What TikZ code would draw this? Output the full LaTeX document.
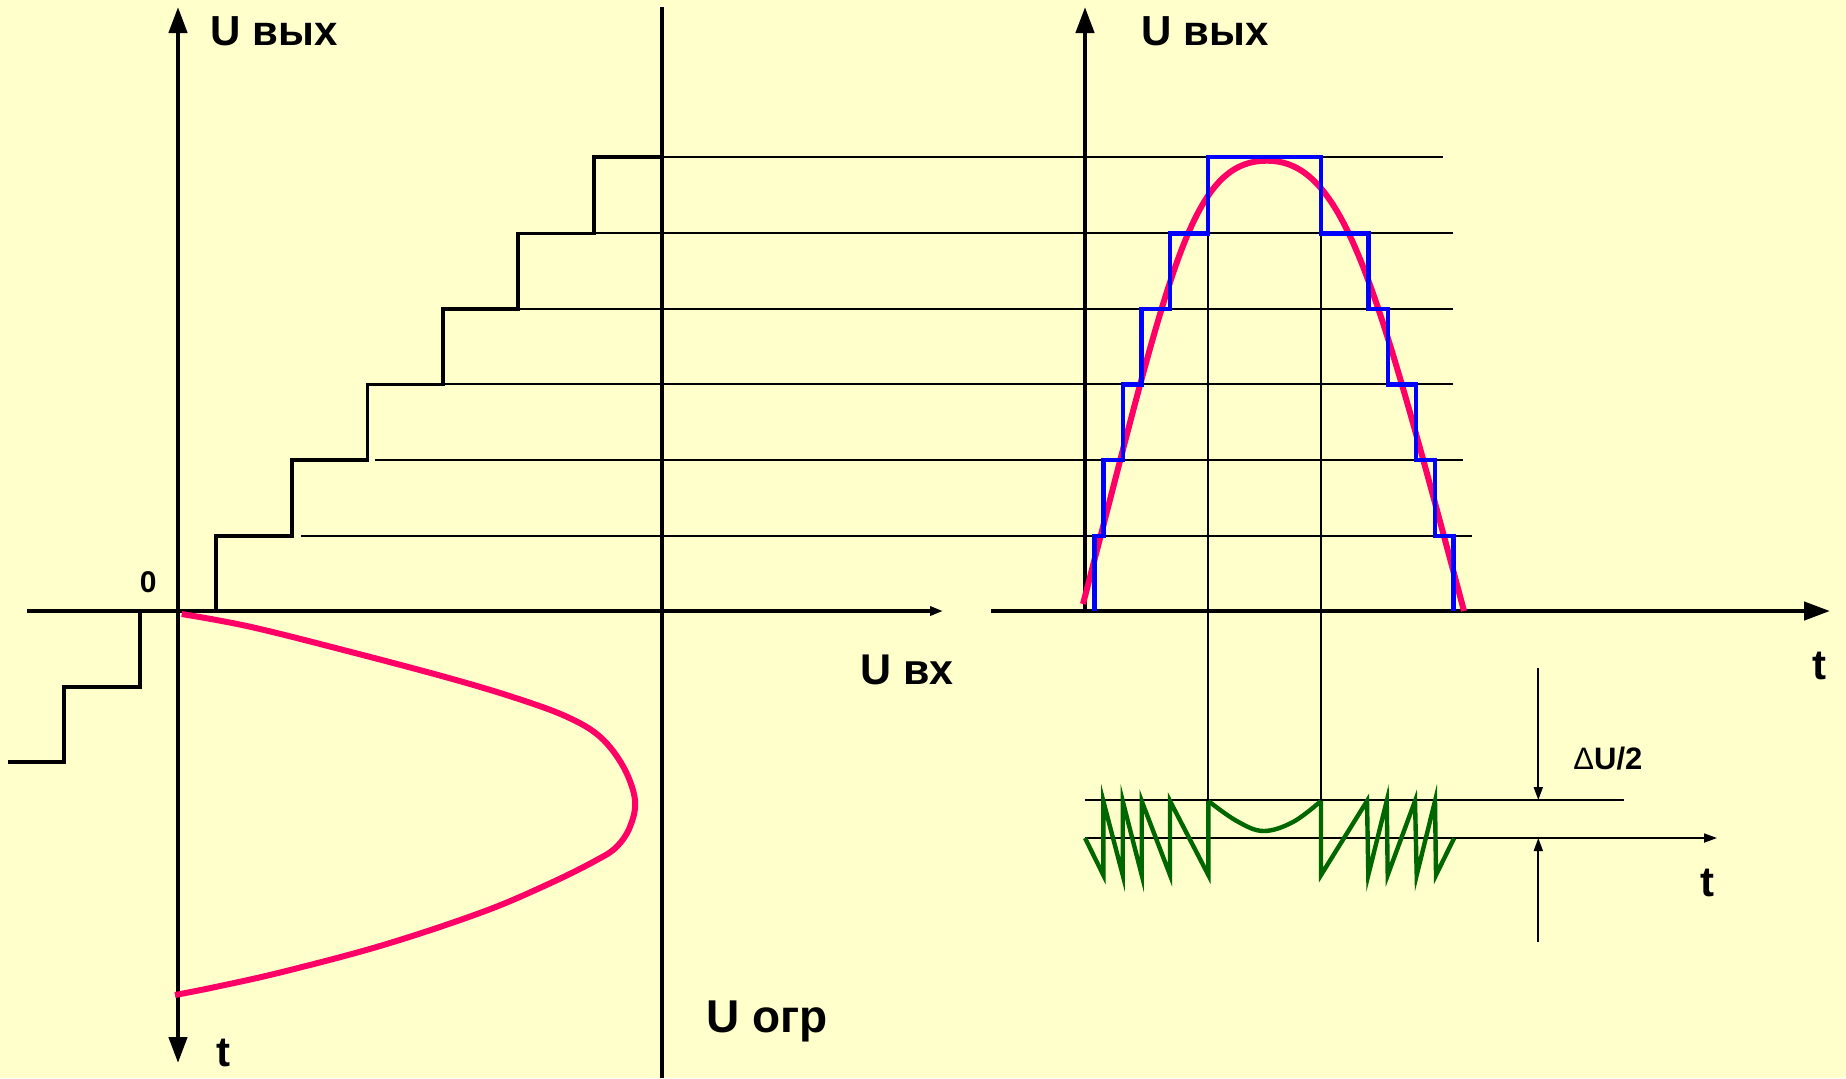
\documentclass[tikz,border=0pt]{standalone}
\usepackage{fontspec}
\setmainfont{Liberation Sans}
\usetikzlibrary{arrows.meta}
\definecolor{bgyellow}{HTML}{FFFFCC}
\definecolor{sigred}{HTML}{FF0066}
\definecolor{stepblue}{HTML}{0000FF}
\definecolor{errgreen}{HTML}{006600}
\tikzset{
  axisline/.style={line width=2.2pt, black},
  bigtip/.style={-{Triangle[length=13pt,width=9pt]}},
  smalltip/.style={-{Triangle[length=6.5pt,width=4.5pt]}},
  stairline/.style={line width=1.8pt, black, line join=miter},
  levelline/.style={line width=1.1pt, black},
  thinline/.style={line width=0.9pt, black},
  limline/.style={line width=2pt, black},
  redcurve/.style={line width=3pt, sigred},
  bluestair/.style={line width=2.2pt, stepblue},
  greenwave/.style={line width=2.2pt, errgreen, line join=miter, miter limit=20},
  lbl/.style={inner sep=0pt, anchor=base west, font=\bfseries\fontsize{21}{21}\selectfont},
  lblbig/.style={inner sep=0pt, anchor=base west, font=\bfseries\fontsize{23}{23}\selectfont},
  lblsmall/.style={inner sep=0pt, anchor=base west, font=\bfseries\fontsize{15}{15}\selectfont},
}
\begin{document}
\begin{tikzpicture}[x=0.5pt,y=-0.5pt]
\fill[bgyellow] (0,0) rectangle (1846,1078);
\useasboundingbox (0,0) rectangle (1846,1078);

% ---------- coordinates ----------
\coordinate (LyTop) at (178,7);
\coordinate (LyBot) at (178,1063);
\coordinate (LxL) at (27,611);
\coordinate (LxR) at (943,611);
\coordinate (RyTop) at (1085,7);
\coordinate (RyBot) at (1085,613);
\coordinate (RxL) at (991,611);
\coordinate (RxR) at (1830,611);
\coordinate (LimTop) at (661.6,7);
\coordinate (LimBot) at (661.6,1078);

% ---------- level lines ----------
\draw[levelline] (301,535.7) -- (1472.3,535.7);
\draw[levelline] (375,460) -- (1463.3,460);
\draw[levelline] (442.7,384.3) -- (1453.3,384.3);
\draw[levelline] (518,309) -- (1453.3,309);
\draw[levelline] (594,233.3) -- (1453.3,233.3);
\draw[levelline] (661.6,156.7) -- (1443.3,156.7);

% vertical projection lines
\coordinate (P1t) at (1208.3,233.3);
\coordinate (P1b) at (1208.3,800);
\coordinate (P2t) at (1321,225);
\coordinate (P2b) at (1321,800);
\draw[levelline] (P1t) -- (P1b);
\draw[levelline] (P2t) -- (P2b);

% ---------- staircase (left) ----------
\draw[stairline] (216,611) -- (216,535.7) -- (292,535.7) -- (292,460) -- (367.3,460) -- (367.3,384.3)
  -- (442.7,384.3) -- (442.7,309) -- (518,309) -- (518,233.3) -- (594,233.3) -- (594,156.7) -- (661.6,156.7);
\draw[stairline] (140,611) -- (140,686.7) -- (64,686.7) -- (64,761.7) -- (8,761.7);

% ---------- axes ----------
\draw[limline] (LimTop) -- (LimBot);
\draw[axisline,{Triangle[length=13pt,width=9pt]}-{Triangle[length=13pt,width=9pt]}] (LyBot) -- (LyTop);
\draw[line width=1.7pt, smalltip] (LxL) -- (LxR);
\draw[axisline, bigtip] (RyBot) -- (RyTop);
\draw[axisline, bigtip] (RxL) -- (RxR);

% ---------- left red curve ----------
\draw[redcurve] plot[smooth, tension=0.6] coordinates {
 (181.7,614) (250,626.7) (350,651.7) (450,678.3) (516.7,698.3) (566.7,716.7) (600,736.7)
 (623.3,766.7) (635,800) (630,826.7) (616.7,846.7) (596.7,860) (550,883.3) (483.3,911.7)
 (383.3,945) (283.3,971.7) (216.7,986.7) (175,995)};

% ---------- right red curve ----------
\coordinate (RcS) at (1083,604);
\coordinate (RcM) at (1267,160.7);
\coordinate (RcE) at (1464,611);
\draw[redcurve] (RcS) .. controls (1170,270) and (1190,160.7) .. (RcM)
  .. controls (1344,160.7) and (1376,282) .. (RcE);

% ---------- blue staircase ----------
\draw[bluestair] (1094.3,611) -- (1094.3,535.7) -- (1103.3,535.7) -- (1103.3,460) -- (1122.7,460)
  -- (1122.7,384.3) -- (1141.3,384.3) -- (1141.3,309) -- (1170,309) -- (1170,233.3) -- (1208,233.3)
  -- (1208,156.7) -- (1321,156.7) -- (1321,233.3) -- (1368.3,233.3) -- (1368.3,309) -- (1387.7,309)
  -- (1387.7,384.3) -- (1416,384.3) -- (1416,460) -- (1435,460) -- (1435,535.7) -- (1453.3,535.7)
  -- (1453.3,611);

% ---------- error signal area ----------
\coordinate (RefL) at (1085,800);
\coordinate (RefR) at (1624,800);
\coordinate (TaxL) at (1085,838);
\coordinate (TaxR) at (1717,838);
\draw[thinline] (RefL) -- (RefR);
\draw[thinline, smalltip] (TaxL) -- (TaxR);

\draw[greenwave] (1085,838) -- (1103.3,875) -- (1103.3,801) -- (1122.7,875) -- (1122.7,801)
  -- (1141.7,875) -- (1141.7,801) -- (1170,875) -- (1170,801) -- (1208.3,875) -- (1208.3,801);
\draw[greenwave] plot[smooth, tension=0.6] coordinates {
  (1208.3,801) (1236.7,821) (1263.3,831) (1293,822) (1321,801)};
\draw[greenwave] (1321,801) -- (1321,875) -- (1367,801) -- (1368.3,875) -- (1386.7,801) -- (1387.7,875)
  -- (1415,801) -- (1416.7,875) -- (1435,801) -- (1436,875) -- (1454,838.3);

% dimension arrows
\coordinate (DaT) at (1538.3,668);
\coordinate (DaB) at (1538.3,800);
\coordinate (DbT) at (1538.3,838);
\coordinate (DbB) at (1538.3,942);
\draw[thinline, smalltip] (DaT) -- (DaB);
\draw[thinline, smalltip] (DbB) -- (DbT);

% ---------- labels ----------
\node[lbl] (uvyxL) at (210,45) {U вых};
\node[lbl] (uvyxR) at (1141,45) {U вых};
\node[lblsmall, anchor=base east] (zero) at (157,592.7) {0};
\node[lbl, font=\bfseries\fontsize{21.5}{21.5}\selectfont] (uvx) at (860,684) {U вх};
\node[lblbig] (uogr) at (706,1032.3) {U огр};
\node[lbl] (tL) at (216,1066.7) {t};
\node[lbl] (tR) at (1812,679.3) {t};
\node[lbl] (tLow) at (1699.7,896) {t};
\node[lblsmall, font=\fontsize{15.5}{15.5}\selectfont] (dU) at (1573,769.3) {Δ\textbf{U/2}};
\end{tikzpicture}
\end{document}
